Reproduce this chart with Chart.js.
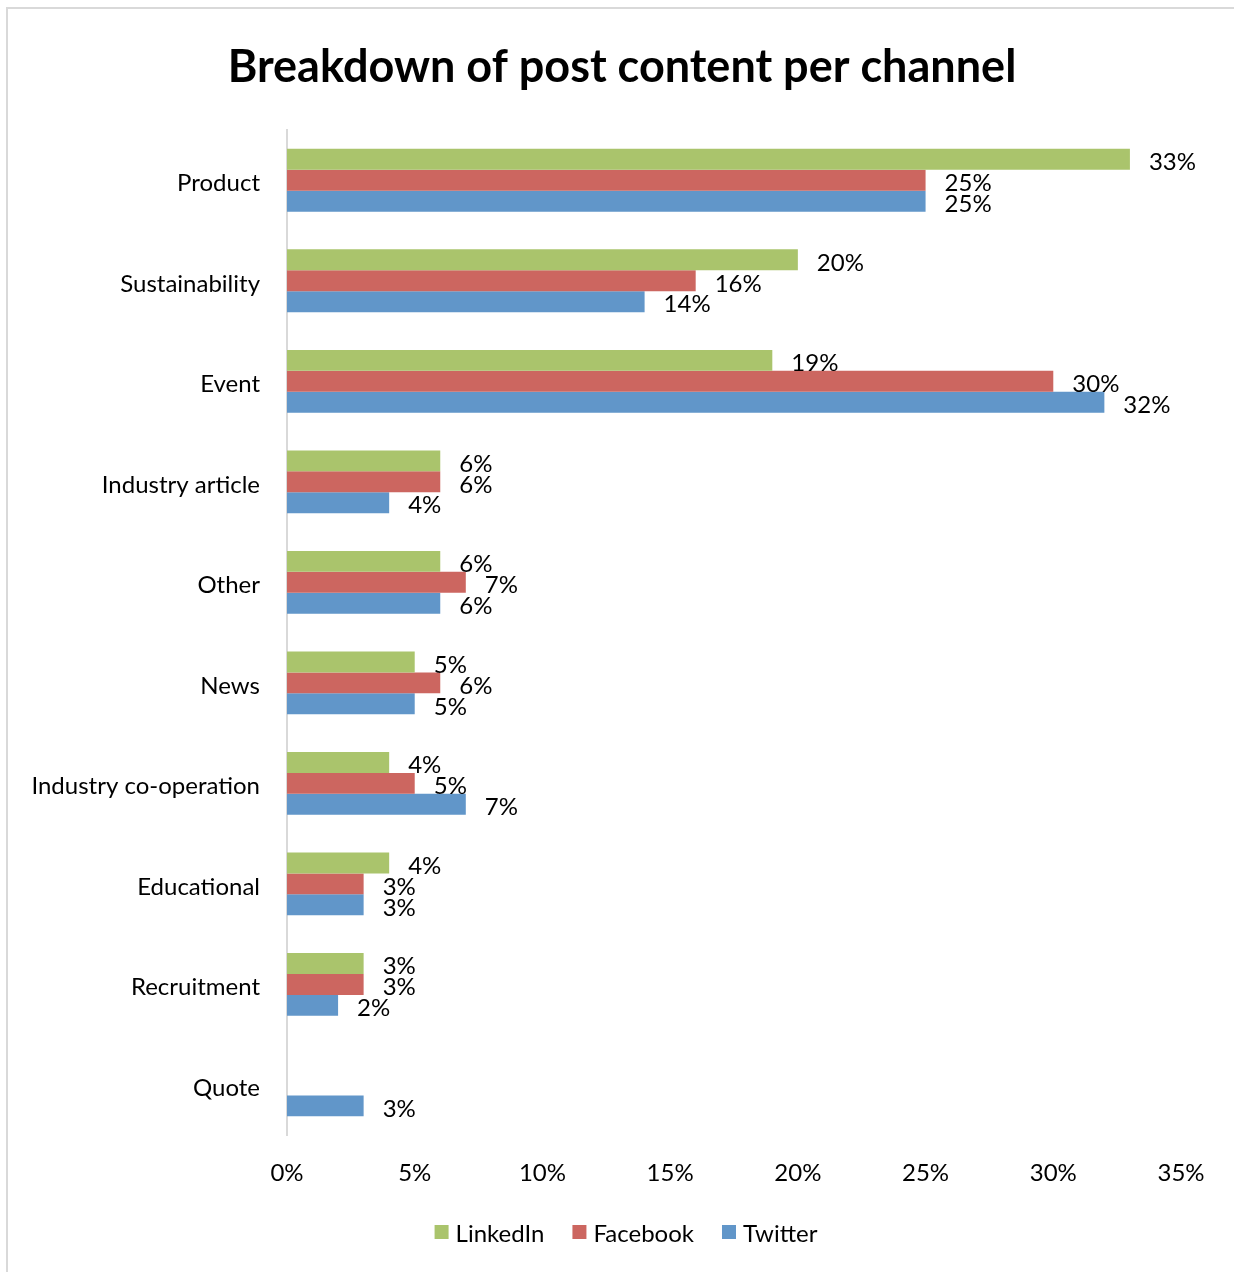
<!DOCTYPE html>
<html>
<head>
<meta charset="utf-8">
<script src="https://cdn.jsdelivr.net/npm/chart.js@4/dist/chart.umd.min.js"></script>
<style>
  html, body { margin: 0; padding: 0; background: #fff; overflow: hidden; }
  #frame { position: absolute; left: 6px; top: 7px; width: 1400px; height: 1400px; border-left: 2px solid #d9d9d9; border-top: 2px solid #d9d9d9; }
  #wrap { position: absolute; left: 0; top: 0; width: 1234px; height: 1272px; }
</style>
</head>
<body>
<div id="frame"></div>
<div id="wrap"><canvas id="c" width="1234" height="1272"></canvas></div>
<script>
const categories = ["Product", "Sustainability", "Event", "Industry article", "Other", "News", "Industry co-operation", "Educational", "Recruitment", "Quote"];
const linkedin = [33, 20, 19, 6, 6, 5, 4, 4, 3, null];
const facebook = [25, 16, 30, 6, 7, 6, 5, 3, 3, null];
const twitter  = [25, 14, 32, 4, 6, 5, 7, 3, 2, 3];
const xTicks = [0, 5, 10, 15, 20, 25, 30, 35];

const FONT = "Lato, 'Open Sans', sans-serif";

const dataLabels = {
  id: 'dataLabels',
  afterLayout(chart) {
    // center the title over the whole chart box, as in the original
    const tb = chart.titleBlock;
    if (tb) { tb.left = 10; tb.right = chart.width; tb.width = tb.right - tb.left; }
  },
  afterDatasetsDraw(chart) {
    const ctx = chart.ctx;
    ctx.save();
    ctx.font = "24px " + FONT;
    ctx.fillStyle = "#000";
    ctx.textAlign = "left";
    ctx.textBaseline = "middle";
    chart.data.datasets.forEach((ds, i) => {
      const meta = chart.getDatasetMeta(i);
      meta.data.forEach((bar, j) => {
        const v = ds.data[j];
        if (v === null || v === undefined) return;
        ctx.fillText(v + "%", bar.x + 19, bar.y + 3);
      });
    });
    ctx.restore();
  },
  afterDraw(chart) {
    // legend row below the axis
    const ctx = chart.ctx;
    ctx.save();
    ctx.font = "24px " + FONT;
    ctx.textAlign = "left";
    ctx.textBaseline = "middle";
    const box = 14, gapText = 7, gapItem = 28;
    const items = chart.data.datasets.map(ds => ({ label: ds.label, color: ds.backgroundColor, w: ctx.measureText(ds.label).width }));
    let total = 0;
    items.forEach((it, k) => { total += box + gapText + it.w + (k < items.length - 1 ? gapItem : 0); });
    let x = 626 - total / 2;
    const yc = 1233;
    items.forEach(it => {
      ctx.fillStyle = it.color;
      ctx.fillRect(x, yc - 8, box, box);
      x += box + gapText;
      ctx.fillStyle = '#000';
      ctx.fillText(it.label, x, yc + 1);
      x += it.w + gapItem;
    });
    ctx.restore();
  }
};

new Chart(document.getElementById('c'), {
  type: 'bar',
  data: {
    labels: categories,
    datasets: [
      { label: 'LinkedIn', data: linkedin, backgroundColor: '#aac46c' },
      { label: 'Facebook', data: facebook, backgroundColor: '#cc6660' },
      { label: 'Twitter',  data: twitter,  backgroundColor: '#6196c9' }
    ]
  },
  options: {
    indexAxis: 'y',
    responsive: false,
    animation: false,
    devicePixelRatio: 1,
    categoryPercentage: 0.625,
    barPercentage: 1,
    layout: { padding: { top: 8, right: 53, left: 0, bottom: 60 } },
    scales: {
      x: {
        min: 0, max: 35,
        afterBuildTicks(scale) { scale.ticks = xTicks.map(v => ({ value: v })); },
        grid: { display: false, drawTicks: false },
        border: { display: false },
        ticks: {
          padding: 24,
          color: '#000',
          font: { family: FONT, size: 24 },
          maxRotation: 0,
          callback: v => v + '%'
        }
      },
      y: {
        grid: { display: false, drawTicks: false },
        border: { display: true, color: '#d9d9d9', width: 2 },
        afterFit(scale) { scale.width = 287; },
        ticks: {
          padding: 27,
          labelOffset: 3,
          color: '#000',
          font: { family: FONT, size: 24 }
        }
      }
    },
    plugins: {
      title: {
        display: true,
        text: 'Breakdown of post content per channel',
        color: '#000',
        font: { family: FONT, size: 45, weight: 'bold' },
        padding: { top: 32, bottom: 36 }
      },
      legend: { display: false },
      tooltip: { enabled: false }
    }
  },
  plugins: [dataLabels]
});
</script>
</body>
</html>
